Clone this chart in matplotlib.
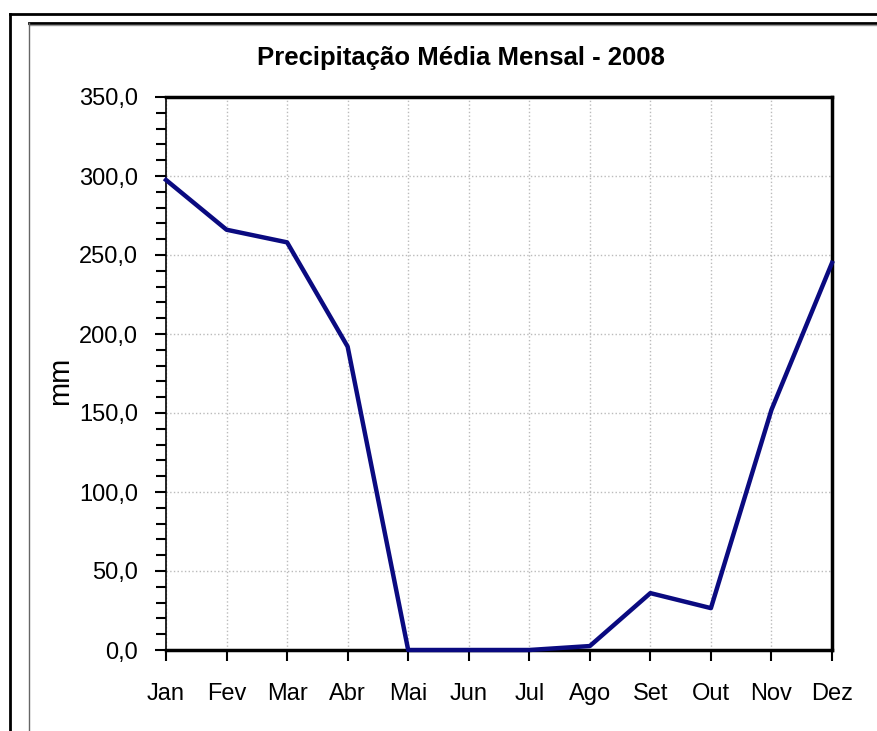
import matplotlib
matplotlib.use("Agg")
import matplotlib.pyplot as plt
from matplotlib.lines import Line2D
from matplotlib.ticker import MultipleLocator, FuncFormatter

plt.rcParams['font.family'] = ['Liberation Sans', 'DejaVu Sans']

months = ['Jan', 'Fev', 'Mar', 'Abr', 'Mai', 'Jun', 'Jul', 'Ago', 'Set', 'Out', 'Nov', 'Dez']
precip = [297.5, 266.0, 258.0, 192.0, 0.0, 0.0, 0.0, 2.5, 36.0, 26.5, 152.0, 245.0]

W, H = 878, 731
fig = plt.figure(figsize=(W / 100, H / 100), dpi=100)

# outer frames (pixel coords -> figure fractions)
def fx(x):
    return x / W

def fy(y):
    return 1 - y / H

fig.add_artist(Line2D([fx(10), 1], [fy(14), fy(14)], color='black', lw=2))
fig.add_artist(Line2D([fx(10), fx(10)], [fy(14), 0], color='black', lw=2))
fig.add_artist(Line2D([fx(29), 1], [fy(23), fy(23)], color='black', lw=2))
fig.add_artist(Line2D([fx(29), 1], [fy(25), fy(25)], color='#999999', lw=1))
fig.add_artist(Line2D([fx(29), fx(29)], [fy(23), 0], color='#666666', lw=1))

ax = fig.add_axes([fx(166), fy(650), fx(832) - fx(166), fy(97) - fy(650)])
x = list(range(len(months)))
ax.plot(x, precip, color='#0a0a80', lw=3.2, solid_joinstyle='round', zorder=3, clip_on=False)

ax.set_xlim(0, len(months) - 1)
ax.set_ylim(0, 350)
ax.set_xticks(x)
ax.set_xticklabels(months)
ax.yaxis.set_major_locator(MultipleLocator(50))
ax.yaxis.set_minor_locator(MultipleLocator(10))
ax.yaxis.set_major_formatter(FuncFormatter(lambda v, p: f"{v:.1f}".replace('.', ',')))

ax.grid(True, which='major', color='#bbbbbb', linestyle=':', lw=1)
ax.tick_params(axis='both', which='major', labelsize=17, direction='out', length=8, width=1.5, color='black')
ax.tick_params(axis='x', pad=16)
ax.tick_params(axis='y', pad=12)
ax.tick_params(axis='y', which='minor', direction='out', length=7, width=1.5)

ax.spines['top'].set_linewidth(2.5)
ax.spines['right'].set_linewidth(2.5)
ax.spines['bottom'].set_linewidth(2.5)
ax.spines['left'].set_linewidth(1.2)

fig.text(fx(60), fy(381), 'mm', rotation=90, fontsize=21, ha='center', va='center')
fig.text(fx(461), fy(58), 'Precipitação Média Mensal - 2008', fontsize=18.5, fontweight='bold',
         ha='center', va='center')

fig.savefig('out.png', dpi=100)
